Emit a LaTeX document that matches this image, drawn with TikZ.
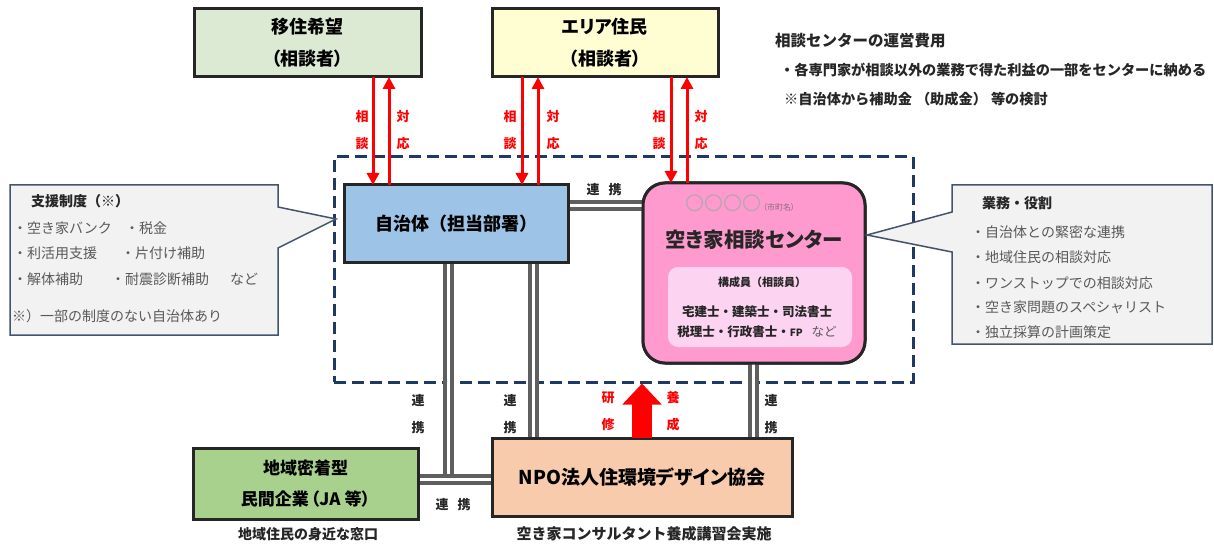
\documentclass[tikz,border=0pt]{standalone}
\usepackage{fontspec}
\setmainfont{Noto Sans CJK JP}[RawFeature=+palt]
\newfontfamily\jfw{Noto Sans CJK JP}
\usetikzlibrary{arrows.meta}
\newcommand{\jfs}[2]{\fontsize{#1pt}{#2pt}\selectfont}
\definecolor{boxline}{HTML}{262626}
\definecolor{topgreen}{HTML}{DDEAD3}
\definecolor{topyellow}{HTML}{FEFED2}
\definecolor{jblue}{HTML}{9DC3E6}
\definecolor{cpink}{HTML}{FF9ACF}
\definecolor{ipink}{HTML}{FCD3F0}
\definecolor{cgreen}{HTML}{A9D18E}
\definecolor{npopeach}{HTML}{F8CBAD}
\definecolor{callfill}{HTML}{F2F2F2}
\definecolor{callline}{HTML}{44546A}
\definecolor{dashnavy}{HTML}{203864}
\definecolor{linkgray}{HTML}{5F5F5F}
\definecolor{arrred}{HTML}{FF0000}
\definecolor{txtgray}{HTML}{595959}
\definecolor{circgray}{HTML}{8C6A7E}
\begin{document}
\begin{tikzpicture}[x=1pt,y=-1pt,
  box/.style={draw=boxline, line width=3pt, inner sep=0pt, outer sep=0pt, align=center},
  redarr/.style={draw=arrred, line width=3pt, -{Triangle[length=12pt,width=12pt]}},
  bigarr/.style={draw=arrred, line width=20pt, -{Triangle[length=21pt,width=38pt]}},
  link/.style={draw=linkgray, line width=4pt, double=white, double distance=3pt},
  redlbl/.style={text=arrred, font=\bfseries\jfs{13}{27}, align=center, inner sep=0pt},
  lbl/.style={text=black!85, font=\bfseries\jfs{13}{27}, align=center, inner sep=0pt},
  callout/.style={fill=callfill, draw=callline, line width=1.5pt},
  ctxt/.style={text=txtgray, font=\jfw\jfs{14}{14}, anchor=west, inner sep=0pt},
  ctitle/.style={text=black!85, font=\jfw\bfseries\jfs{14}{14}, anchor=west, inner sep=0pt},
  note/.style={text=black!85, inner sep=0pt},
]
\useasboundingbox (0,0) rectangle (1214,545);
\fill[white] (0,0) rectangle (1214,545);

% dashed area
\node[draw=dashnavy, line width=3pt, dash pattern=on 12pt off 6pt, minimum width=579pt, minimum height=225pt, inner sep=0pt] (area) at (623.5,269.5) {};

% helper coordinates
\coordinate (cL1) at (373,0); \coordinate (cL2) at (389,0);
\coordinate (cM1) at (522,0); \coordinate (cM2) at (538,0);
\coordinate (cR1) at (671,0); \coordinate (cR2) at (687,0);
\coordinate (v1) at (448,479); \coordinate (v2) at (533,0);
\coordinate (v3) at (753,0); \coordinate (h1) at (0,206);
\coordinate (ba) at (642,0);

% boxes (positions)
\node[box, fill=topgreen, minimum width=227pt, minimum height=68pt, font=\bfseries\jfs{18}{32}] (iju) at (307.5,43) {移住希望\\（相談者）};
\node[box, fill=topyellow, minimum width=226pt, minimum height=68pt, font=\bfseries\jfs{18}{32}] (eria) at (605,43) {エリア住民\\（相談者）};
\node[box, minimum width=224pt, minimum height=77pt] (jichi) at (456,223.5) {};
\node[box, rounded corners=22pt, minimum width=222pt, minimum height=180pt] (center) at (754,273) {};
\node[box, minimum width=225pt, minimum height=71pt] (chiiki) at (305.5,483.5) {};
\node[box, minimum width=300pt, minimum height=78pt] (npo) at (642,477) {};

% links (double gray lines)
\draw[link] (jichi.south -| v1) -- (v1);
\draw[link] (chiiki.east |- v1) -- (npo.west |- v1);
\draw[link] (jichi.south -| v2) -- (npo.north -| v2);
\draw[link] (center.south -| v3) -- (npo.north -| v3);
\draw[link] (jichi.east |- h1) -- (center.west |- h1);

% filled boxes on top of link ends
\node[box, fill=jblue, minimum width=224pt, minimum height=77pt, font=\jfw\bfseries\jfs{18}{18}] (jichiB) at (jichi) {自治体（担当部署）};
\node[box, fill=cpink, rounded corners=22pt, minimum width=222pt, minimum height=180pt] (centerB) at (center) {};
\node[box, fill=cgreen, minimum width=225pt, minimum height=71pt, font=\bfseries\jfs{17}{31}] (chiikiB) at (chiiki) {地域密着型\\民間企業\hspace{2pt}（JA 等）};
\node[box, fill=npopeach, minimum width=300pt, minimum height=78pt, font=\bfseries\jfs{19}{19}] (npoB) at (npo) {NPO法人住環境デザイン協会};

% center contents
\node[fill=ipink, rounded corners=10pt, minimum width=184pt, minimum height=80pt, inner sep=0pt] (members) at (760,307) {};
\node[inner sep=0pt] (cname) at (740,203) {{\color{circgray!60}\jfs{19}{19}〇〇〇〇}\hspace{2pt}{\color{circgray}\jfs{8}{8}（市町名）}};
\node[note, font=\bfseries\jfs{20.5}{20.5}] (ctitle) at (754,240) {空き家相談センター};
\node[note, font=\jfw\bfseries\jfs{11}{11}] (mtitle) at (762,282) {構成員（相談員）};
\node[note, font=\jfw\bfseries\jfs{12.5}{12.5}] (m1) at (757,312) {宅建士・建築士・司法書士};
\node[note, font=\jfw\bfseries\jfs{12.5}{12.5}] (m2) at (757,332) {税理士・行政書士・{\jfs{10}{10}FP}\hspace{9pt}{\mdseries\color{txtgray}など}};

% red arrows
\draw[redarr] (iju.south -| cL1) -- (jichi.north -| cL1);
\draw[redarr] (jichi.north -| cL2) -- (iju.south -| cL2);
\draw[redarr] (eria.south -| cM1) -- (jichi.north -| cM1);
\draw[redarr] (jichi.north -| cM2) -- (eria.south -| cM2);
\draw[redarr] (eria.south -| cR1) -- (center.north -| cR1);
\draw[redarr] (center.north -| cR2) -- (eria.south -| cR2);
\draw[bigarr] (npo.north -| ba) -- (area.south -| ba);

% red labels
\node[redlbl] (s1) at (362,130.5) {相\\談};
\node[redlbl] (t1) at (403,130.5) {対\\応};
\node[redlbl] (s2) at (510,130.5) {相\\談};
\node[redlbl] (t2) at (553,130.5) {対\\応};
\node[redlbl] (s3) at (659,130.5) {相\\談};
\node[redlbl] (t3) at (701,130.5) {対\\応};
\node[redlbl] (ken) at (608,411.5) {研\\修};
\node[redlbl] (you) at (673,411.5) {養\\成};

% link labels
\node[lbl] (r0) at (604,190) {連\hspace{9pt}携};
\node[lbl] (r1) at (418,414.5) {連\\携};
\node[lbl] (r2) at (510,414.5) {連\\携};
\node[lbl] (r3) at (771,414.5) {連\\携};
\node[lbl] (r4) at (453,505) {連\hspace{9pt}携};

% bottom captions
\node[note, font=\jfw\bfseries\jfs{14}{14}] (cap1) at (308,534) {地域住民の身近な窓口};
\node[note, font=\jfw\bfseries\jfs{15}{15}] (cap2) at (644,534) {空き家コンサルタント養成講習会実施};

% top right text
\node[note, anchor=west, font=\jfw\bfseries\jfs{15.5}{15.5}] (cost) at (775,41) {相談センターの運営費用};
\node[note, anchor=west, font=\jfw\bfseries\jfs{14.2}{14.2}] (cost1) at (780,70) {・各専門家が相談以外の業務で得た利益の一部をセンターに納める};
\node[note, anchor=west, font=\jfw\bfseries\jfs{14.2}{14.2}] (cost2) at (784,99) {※自治体から補助金\hspace{4pt}（助成金）\hspace{4pt}等の検討};

% left callout
\draw[callout] (10,185) -- (278,185) -- (278,207) -- (336,219) -- (278,248) -- (278,335) -- (10,335) -- cycle;
\node[ctitle] (lt) at (31,201) {支援制度（※）};
\node[ctxt] (l1a) at (13,228) {・空き家バンク};
\node[ctxt] (l1b) at (125,228) {・税金};
\node[ctxt] (l2a) at (13,253) {・利活用支援};
\node[ctxt] (l2b) at (121,253) {・片付け補助};
\node[ctxt] (l3a) at (13,279) {・解体補助};
\node[ctxt] (l3b) at (111,279) {・耐震診断補助};
\node[ctxt] (l3c) at (230,279) {など};
\node[ctxt] (l4) at (12,316) {※）一部の制度のない自治体あり};

% right callout
\draw[callout] (952,185) -- (1212,185) -- (1212,344) -- (952,344) -- (952,252) -- (867,235) -- (952,212) -- cycle;
\node[ctitle] (rt) at (982,203) {業務・役割};
\node[ctxt] (rr1) at (971,232) {・自治体との緊密な連携};
\node[ctxt] (rr2) at (971,257) {・地域住民の相談対応};
\node[ctxt] (rr3) at (971,283) {・ワンストップでの相談対応};
\node[ctxt] (rr4) at (971,307) {・空き家問題のスペシャリスト};
\node[ctxt] (rr5) at (971,332) {・独立採算の計画策定};
\end{tikzpicture}
\end{document}
